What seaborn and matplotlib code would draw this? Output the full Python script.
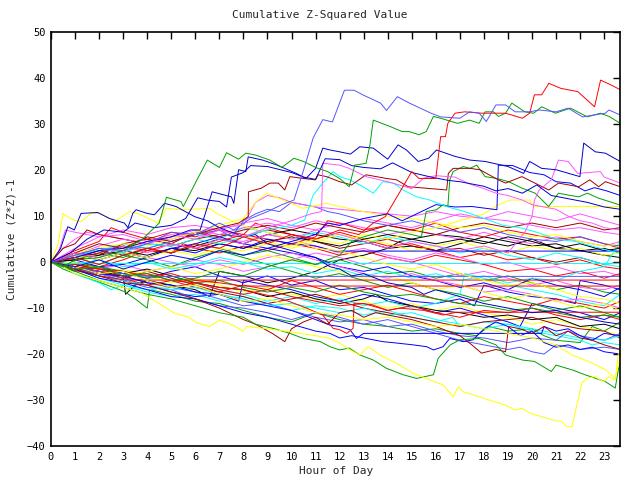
import matplotlib
matplotlib.use("Agg")
import matplotlib.pyplot as plt
import seaborn as sns
import pandas as pd

# ---- colours (gnuplot-like palette) ----
RED, GREEN, BLUE, MAG, CYAN = "#ff0000", "#00a000", "#0000ff", "#ff55ff", "#00ffff"
DRED, YEL, BLK, MBLUE, DBLUE = "#a00000", "#ffff00", "#000000", "#5555ff", "#0000c8"

title_text = "Cumulative Z-Squared Value"
x_label = "Hour of Day"
y_label = "Cumulative (Z*Z)-1"
x_ticks = list(range(0, 24))
y_ticks = [-40, -30, -20, -10, 0, 10, 20, 30, 40, 50]

# ---- series: (hour, cumulative value) ----
m01 = [(0,0),(1,2.5),(2,4.5),(2.5,7.5),(3,6.5),(4,5),(5,6.5),(6,5.5),(7,7),(8,6),(8.5,8.5),(9,7.5),(10,6),(11,5),(12,6.5),(13,5),(14,3.5),(15,4),(16,2.5),(17,1),(18,2),(19,0.5),(20,1),(21,-0.5),(22,0.5),(23,-1),(23.67,-1.5)]
m02 = [(0,0),(0.5,3),(1,5),(1.5,6.5),(2,6),(3,5),(4,4),(5,5.5),(6,6.5),(7,5),(8,4.5),(9,6),(10,5),(11,3.5),(12,2),(13,3),(14,1.5),(15,0.5),(16,2),(17,1),(18,-0.5),(19,0),(20,-1.5),(21,-1),(22,-2.5),(23,-2),(23.67,-3)]
m03 = [(0,0),(1,-1),(2,-2),(3,-3),(3.1,-7),(3.5,-5),(4,-4),(5,-5),(6,-6),(6.6,-7.5),(7,-2),(8,-3),(9,-4.5),(10,-3.5),(11,-2),(12,0.5),(13,1.5),(14,3),(14.5,4.5),(15,5),(16,6),(17,5.5),(18,4.5),(19,3.5),(20,5),(21,3),(22,2.5),(23,1.5),(23.67,1)]
m04 = [(0,0),(1,1),(2,2.5),(3,1.5),(4,3),(5,2),(6,3.5),(7,5),(8,4),(9,6),(10,7),(11,6),(12,5),(13,4.5),(14,3),(15,3.5),(16,2.5),(17,4),(18,5.5),(19,4.5),(20,3.5),(21,4),(22,2.5),(23,3),(23.67,2)]
m05 = [(0,0),(0.5,-1.5),(1.25,-3),(2.08,-4.5),(3.05,-6.4),(3.5,-8),(4.0,-10),(4.1,-6),(5,-7),(6,-8.5),(7,-9),(8,-10.5),(9,-12),(10,-13),(10.5,-12),(11,-11),(12,-12.5),(13,-13.5),(14,-14),(15,-15),(16,-14.5),(17,-15.5),(17.7,-16),(18.2,-14),(19,-15),(20,-14.5),(20.5,-16),(21,-17),(22,-17.5),(22.5,-14),(23,-15),(23.67,-13)]
m06 = [(0,0),(0.5,-1),(1,-2.5),(2,-4.5),(2.5,-6),(3,-5),(4,-6.5),(5,-7.5),(6,-7),(7,-8.5),(8,-7.5),(9,-9),(10,-10.5),(11,-9.5),(12,-10),(13,-11.5),(14,-10.5),(15,-12),(16,-13),(16.7,-12),(17,-14),(18,-13),(19,-13.5),(20,-15),(21,-16),(22,-17),(22.5,-18),(23,-17.5),(23.67,-18)]
m07 = [(0,0),(0.3,2),(0.6,7),(1,6.5),(2,5.5),(3,7),(4,6),(5,7.5),(6,8),(7,7),(8,8.5),(9,9.5),(10,8),(11,7),(12,8.5),(13,7.5),(14,6),(15,7),(16,6),(17,5),(18,6.5),(19,5),(20,4),(21,5.5),(22,4.5),(23,3.5),(23.67,4.5)]
m08 = [(0,0),(0.5,-1),(1,-2),(2,-1),(3,-2.5),(4,-3.5),(5,-2),(6,-1),(7,-3),(8,-4.5),(9,-3),(10,-5),(11,-4),(12,-6),(13,-5.5),(14,-7),(15,-8.5),(16,-9),(17,-8),(17.6,-9.5),(18,-5),(19,-6.5),(20,-7.5),(21,-8),(21.8,-9),(22,-4),(23,-5),(23.67,-6)]
m09 = [(0,0),(0.5,1),(1,0),(2,-1),(3,0.5),(4,2.5),(5,2),(5.5,4),(6,3),(7,2),(8,3.5),(9,2.5),(10,4),(11,3),(12,1.5),(13,2.5),(14,1),(15,0),(16,1.5),(17,0.5),(18,-0.5),(19,-2),(20,-1.5),(21,-3),(22,-2),(23,-3.5),(23.67,-2.5)]
m10 = [(0,0),(1,-1),(2,-2.5),(3,-1.5),(4,-3),(5,-4.5),(6,-3.5),(7,-5),(8,-6.5),(9,-5.5),(10,-7),(11,-8),(12,-7),(13,-8.5),(14,-10),(15,-9),(16,-10.5),(17,-9.5),(18,-11),(19,-12),(20,-13.5),(21,-12.5),(22,-14),(23,-15),(23.67,-16)]
m11 = [(0,0),(0.5,3),(1,4),(1.5,7),(2,6),(3,5),(4,4),(5,3.5),(6,5),(7,6),(8,5.5),(9,7),(10,6),(11,4.5),(12,3),(13,4),(14,5),(15,3.5),(16,2.5),(17,3),(18,1.5),(19,2.5),(20,1),(21,0),(22,1),(23,-0.5),(23.67,0)]
m12 = [(0,0),(1,0.5),(2,2),(3,1),(4,3),(5,2),(6,4),(7,3),(8,1.5),(9,2.5),(10,1),(11,-0.5),(12,0.5),(13,-1),(14,-2.5),(15,-2),(16,-3.5),(17,-2.5),(18,-4),(19,-3),(20,-4.5),(21,-6),(22,-5),(23,-6.5),(23.67,-7)]
m13 = [(0,0),(1,1.5),(2,2.5),(3,4),(4,3),(5,4.5),(6,6),(7,5),(8,7.5),(9,6.5),(10,5),(11,6.5),(12,5.5),(13,4),(14,5.5),(15,4.5),(16,3.5),(17,2),(18,3),(19,1.5),(20,0.5),(21,2),(22,1),(23,-0.5),(23.67,-1)]
m14 = [(0,0),(1,-1),(2,-3),(3,-4),(4,-5),(5,-6.5),(6,-7.5),(7,-7),(7.8,-8.5),(8,-4),(9,-5),(10,-6),(11,-7.5),(12,-8.5),(13,-7),(14,-8),(15,-9.5),(16,-11),(17,-10),(18,-11.5),(19,-13),(19.5,-14),(20,-9),(21,-10),(22,-11),(23,-12.5),(23.67,-11)]
m15 = [(0,0),(1,-0.5),(2,-1.5),(3,-0.5),(4,-2),(5,-1),(6,0.5),(7,-0.5),(8,-2),(9,-1),(10,0.5),(11,2),(12,1),(13,-0.5),(14,1),(15,0),(16,-1.5),(17,-3),(18,-2),(19,-3.5),(20,-5),(21,-4),(22,-5.5),(23,-6),(23.67,-5)]
m16 = [(0,0),(1,-1.5),(2,-2.5),(3,-4),(4,-5.5),(5,-6),(6,-8),(7,-9.5),(8,-10),(9,-11),(10,-12.5),(11,-11),(12,-12),(13,-13.5),(14,-12.5),(15,-14),(16,-15.5),(17,-17),(18,-18),(19,-19),(19.5,-18.5),(20,-19.5),(20.5,-20),(21,-18),(22,-19),(23,-18.5),(23.67,-19)]
m17 = [(0,0),(1,-1.5),(2,-2),(3,-3.5),(4,-5),(5,-4),(6,-5.5),(7,-6.5),(8,-5),(9,-6),(10,-4),(11,-5.5),(12,-7),(13,-6),(14,-5),(15,-6.5),(16,-8),(17,-9),(18,-7.5),(19,-8.5),(20,-9.5),(21,-8),(22,-9),(23,-10),(23.67,-8.5)]
m18 = [(0,0),(1,-0.5),(2,-1.5),(3,-2.5),(4,-1.5),(5,-3),(6,-4.5),(7,-5.5),(8,-6),(9,-7.5),(10,-6.5),(11,-8),(12,-9),(13,-8),(13.5,-7),(14,-8.5),(15,-9.5),(16,-10.5),(17,-11),(18,-12),(19,-11.5),(20,-12.5),(21,-12),(22,-14),(23,-13.5),(23.67,-14.5)]
m19 = [(0,0),(1,2),(2,1),(3,3),(4,4.5),(5,6),(6,5),(7,4),(8,5.5),(9,4.5),(10,3),(11,4.5),(12,6),(13,5),(14,4),(15,2.5),(16,3.5),(17,4.5),(18,3),(19,2),(20,3.5),(21,2.5),(22,3),(23,1.5),(23.67,2)]
m20 = [(0,0),(1,1),(2,-0.5),(3,1.5),(4,0.5),(5,-1),(6,1),(7,2.5),(8,1),(9,-0.5),(10,-2),(11,-3.5),(12,-2.5),(13,-4),(14,-5.5),(15,-4.5),(16,-6),(17,-7),(18,-8.5),(19,-7.5),(20,-9),(21,-10.5),(22,-9.5),(23,-11),(23.67,-12)]
m21 = [(0,0),(1,-1.5),(2,-3.5),(3,-5),(4,-6),(5,-5.5),(6,-4.5),(7,-6),(8,-7),(9,-8.5),(10,-7.5),(11,-9),(12,-8),(13,-9.5),(14,-8.5),(15,-10),(16,-9),(17,-7),(17.2,-2.5),(18,-3.5),(19,-5),(20,-6),(21,-7),(22,-8.5),(23,-9.5),(23.67,-7)]
m22 = [(0,0),(1,0.5),(2,-1),(3,-0.5),(4,1),(5,3),(6,4),(7,5.5),(8,4),(9,3),(10,2),(11,1),(12,-1),(13,-2),(14,-1),(15,-3),(16,-4),(17,-5.5),(18,-4.5),(19,-6),(20,-3.5),(21,-5),(22,-6),(23,-7.5),(23.67,-5.5)]
m23 = [(0,0),(1,1),(2,2),(3,3.5),(4,2.5),(5,4),(6,3),(7,4.5),(8,6),(9,5),(10,4),(11,5.5),(11.5,9),(12,8.5),(13,7),(14,8),(15,7),(16,8.5),(17,6.5),(18,5.5),(19,7),(20,6),(21,5),(22,5.5),(23,4),(23.67,3)]
m24 = [(0,0),(1,-1),(2,-2),(3,-3.5),(4,-2),(5,-3.5),(6,-5),(7,-6.5),(8,-7.5),(9,-9),(10,-8),(11,-7),(12,-8.5),(13,-10),(14,-11),(15,-12),(16,-13),(17,-14),(18,-13),(19,-12.5),(20,-12),(21,-13.5),(22,-14.5),(23,-15),(23.67,-16.5)]
m25 = [(0,0),(1,1),(2,3),(3,2),(4,1),(5,0),(6,-1),(7,0.5),(8,-0.5),(9,1),(10,2),(11,0.5),(12,-1),(13,-2.5),(14,-3.5),(15,-2.5),(16,-4),(17,-5),(18,-6.5),(19,-6),(20,-7),(21,-8.5),(22,-8),(23,-9),(23.67,-10)]
m26 = [(0,0),(1,0),(2,-1.5),(3,-3),(4,-2),(5,-1),(6,-2.5),(7,-1.5),(8,0),(9,1.5),(10,0.5),(11,-1),(12,-2),(13,-3.5),(14,-3),(15,-4.5),(16,-6),(17,-5),(18,-6.5),(19,-8),(20,-7),(21,-8.5),(22,-10),(23,-9),(23.67,-10.5)]
e01 = [(0,0),(1,1.5),(2,3.5),(3,5),(4,4),(5,5.5),(6,7),(7,6),(8,7.5),(9,8.5),(10,7.5),(11,9),(12,8),(13,9.5),(14,8.5),(15,7.5),(16,9),(17,10.5),(18,9.5),(19,11),(20,10),(21,9),(22,10.5),(23,9),(23.67,8)]
e02 = [(0,0),(1,2),(2,1.5),(3,4),(4,5),(5,4),(6,6.5),(7,5.5),(8,7),(9,8),(10,7),(11,8.5),(12,7.5),(13,6.5),(14,8),(15,7),(16,6),(17,7.5),(18,8.5),(19,7.5),(20,8.5),(21,7.5),(22,8.5),(23,7),(23.67,7.5)]
e03 = [(0,0),(1,-0.5),(2,0.5),(3,-1),(4,0),(5,-1.5),(6,-0.5),(7,1),(8,0),(9,-1.5),(10,-1),(11,-2.5),(12,-1.5),(13,-3),(14,-2),(15,-3.5),(16,-2.5),(17,-4),(18,-3),(19,-4.5),(20,-3.5),(21,-4),(22,-2),(23,-1),(23.5,3),(23.67,5)]
e04 = [(0,0),(1,0.5),(2,1.5),(3,2.5),(4,1.5),(5,3),(6,2.5),(7,4),(8,3),(9,4.5),(10,5.5),(11,4.5),(12,3.5),(13,5),(14,6),(15,5),(16,4),(17,5),(18,4),(19,5.5),(20,4.5),(21,3),(22,4),(23,2.5),(23.67,3)]
e05 = [(0,0),(1,-1),(2,-2.5),(3,-3),(4,-4.5),(5,-5.5),(6,-4.5),(7,-6),(8,-7),(9,-6),(10,-7.5),(11,-8.5),(12,-9.5),(13,-9),(14,-10.5),(15,-9.5),(16,-11),(17,-12),(18,-10.5),(19,-11),(20,-10),(21,-11.5),(22,-12.5),(23,-11.5),(23.67,-12.5)]
e06 = [(0,0),(1,-0.5),(2,-1),(3,-2),(4,-3.5),(5,-3),(6,-4.5),(7,-4),(8,-5.5),(9,-6.5),(10,-5.5),(11,-6.5),(12,-5),(13,-6.5),(14,-7.5),(15,-7),(16,-8),(17,-9),(18,-9.5),(19,-10.5),(20,-10),(21,-11),(22,-12),(23,-11.5),(23.67,-12)]
e07 = [(0,0),(1,-1),(2,-2.5),(3,-3.5),(4,-4),(5,-5.5),(6,-6.5),(7,-8),(8,-9.5),(9,-9),(10,-10.5),(11,-12),(12,-13),(13,-12.5),(14,-14),(15,-13.5),(16,-15),(17,-16),(18,-16.5),(19,-17.5),(20,-16.5),(21,-17),(21.5,-15),(22,-16),(23,-17),(23.67,-15.5)]
e08 = [(0,0),(1,-1.5),(2,-3),(3,-4),(4,-5),(5,-6),(6,-5.5),(7,-7),(8,-8),(9,-9.5),(10,-9),(11,-10),(12,-11),(13,-10),(14,-11.5),(15,-11),(16,-12.5),(17,-13.5),(18,-14.5),(19,-13.5),(20,-14.5),(21,-15.5),(22,-16.5),(23,-17),(23.67,-16)]
u01 = [(0,0),(1,1),(2,2.5),(3,3.5),(4,3),(5,4.5),(6,6),(7,7),(7.5,5.5),(8,9),(8.5,10.5),(9,11.5),(9.5,11),(10,13),(10.5,12.5),(11,12),(11.5,11),(12,10.5),(13,9),(14,8),(15,9),(16,7.5),(17,6.5),(18,7.5),(19,6),(20,5),(21,4.5),(22,5.5),(23,4),(23.67,3.5)]
u02 = [(0,0),(1,1.5),(2,3),(3,2),(4,4.5),(5,5),(6,6.5),(7,7.5),(8,8),(8.5,13),(9,14.5),(9.5,14),(10,13),(10.5,12.5),(11,12),(12,11.5),(13,11),(14,10.5),(15,10),(16,11),(17,10),(18,9.5),(19,9),(20,8),(21,7),(22,7.5),(23,6.5),(23.67,6)]
u03 = [(0,0),(1,2),(2,3),(3,4),(4,3.5),(5,5),(6,6.5),(7,8),(8,9.5),(8.5,13),(8.96,15),(9.65,13.5),(10.48,11.7),(11.45,12.8),(12,12.1),(13,11),(14,10),(15,9.5),(16,8.5),(17,7.5),(18,8),(19,6.5),(20,5.5),(21,6),(22,4.5),(23,3.5),(23.67,4)]
flat_red_a = [(0,0),(0.5,-1),(1,-1.8),(2,-3),(3.1,-3.9),(23.67,-3.9)]
flat_red_b = [(0,0),(1,-0.5),(2,-1.5),(3,-2),(4,-3),(5,-2.5),(6,-4),(7,-4.5),(8,-5.2),(23.67,-5.2)]
flat_blue = [(0,0),(1,1.5),(2,0.5),(3,2),(4,1),(5,3),(6,2),(7,4),(8,3),(9,5),(10,4),(11,3.5),(11.8,2.4),(23.67,2.4)]
flat_cyan = [(0,-0.1),(23.67,-0.1)]
flat_mblue = [(0,0),(1,-1),(2,-2),(3,-2.5),(4,-3.1),(23.67,-3.1)]
flat_blue_low = [(0,0),(1,-1),(2,-2.5),(3,-3),(4,-4.5),(5,-5),(6,-6.5),(7,-7),(8,-8.5),(9,-9.5),(10,-10.5),(11,-12.5),(11.6,-13.7),(12,-14),(12.43,-14.7),(12.7,-16.6),(13,-15.5),(20.4,-15.5),(20.5,-14),(21,-15),(21.5,-14.5),(22,-16),(22.5,-17),(23,-15.5),(23.67,-16)]
red_falls = [(0,0),(1,-1),(2,-1.5),(3,-3),(4,-2.5),(5,-4),(6,-4.5),(7,-5.5),(8,-6),(9.23,-7.5),(9.93,-8.6),(10.62,-10),(11.3,-11.5),(11.73,-14.4),(12,-14.7),(12.3,-15.5),(12.56,-14.4),(12.6,-8.9),(13.3,-9.2),(14,-10.5),(14.5,-10),(15.5,-10.5),(16.3,-11.5),(16.86,-10.9),(23.67,-10.9)]
blue_low = [(0,0),(1,-1.5),(2,-3.5),(3,-4.5),(4,-6),(5,-7.5),(6,-8),(7,-9.5),(8,-11),(9,-12),(10,-13.5),(11,-15),(11.6,-15.5),(12,-16.5),(12.5,-16),(13,-16.5),(13.8,-17.3),(14.37,-17.6),(15.06,-18),(15.62,-18.4),(15.9,-19.1),(16.3,-18.4),(16.58,-16.6),(17.14,-17.3),(17.55,-16.9),(18,-14.5),(18.5,-13),(19,-14),(19.5,-16),(20,-15),(20.5,-17.5),(21,-18.5),(21.5,-18),(22,-19),(22.5,-18.5),(23,-19.5),(23.67,-20)]
dred_low = [(0,0),(1,-1.5),(2,-3),(3,-4.5),(4,-5),(5,-6.5),(6,-8),(7,-10),(8,-12.5),(8.5,-13.5),(9.2,-15.5),(9.72,-17.3),(10.0,-14.5),(10.5,-13),(11,-12),(11.5,-13.5),(12,-11),(12.5,-10.5),(13,-12),(13.5,-11),(14,-11.5),(15,-12.5),(16,-14),(17,-16),(17.5,-18),(17.9,-19.8),(18.5,-19),(18.9,-19.5),(19.03,-14),(19.5,-14.5),(20,-15.5),(20.5,-14),(21,-16),(21.5,-15),(22,-16.5),(22.5,-17),(23,-18),(23.67,-19)]
green_low = [(0,0),(1,-2),(2,-4),(3,-5.5),(4,-7),(5,-8),(6,-9.5),(7,-11),(8,-12),(8.5,-13.5),(9.3,-14.5),(9.93,-15.5),(10.5,-16.6),(11.2,-17.3),(11.6,-18.4),(12,-19.1),(12.4,-18.7),(12.84,-20.2),(13.4,-21.3),(13.95,-23.1),(14.64,-24.5),(15.2,-25.3),(15.9,-24.5),(16.1,-20.9),(16.6,-18),(17,-16.9),(17.8,-16.6),(18.5,-18),(18.9,-20.2),(19.6,-21.3),(20.1,-21.6),(20.8,-23.8),(21.0,-22.4),(21.7,-23.5),(22.2,-24.5),(23.05,-26),(23.46,-27.4),(23.6,-23.1),(23.67,-22)]
yellow_low = [(0,0),(0.5,-1),(1,-2.5),(2,-4),(3,-5.5),(3.7,-6.5),(4.58,-9.3),(5.13,-11.1),(5.69,-11.9),(6.1,-13.3),(6.6,-14),(7.0,-12.6),(7.57,-13.7),(7.99,-15.1),(8.13,-14),(9,-14.5),(10,-15.2),(11,-16),(11.6,-16.6),(12,-17.6),(12.43,-19.1),(12.84,-20.2),(13.19,-18.4),(13.67,-20.2),(14.37,-22),(15.06,-24.2),(15.75,-25.6),(16.3,-26.7),(16.72,-29.3),(16.93,-27.1),(17.14,-28.2),(17.83,-29.3),(18.2,-30),(18.9,-31.1),(19.3,-32.2),(19.58,-31.8),(19.93,-32.9),(20.4,-33.6),(20.83,-34.3),(21.24,-34.7),(21.45,-35.8),(21.66,-35.8),(22.07,-26.3),(22.28,-25.3),(22.6,-24.9),(22.98,-26),(23.2,-24.9),(23.46,-25.6),(23.58,-20.2),(23.67,-18.7)]
yellow_mid = [(0,0),(1,-1),(2,-2.5),(3,-2),(4,-4),(5,-5.5),(6,-5),(7,-7),(8,-8.5),(9,-8),(10,-9.5),(11,-11),(12,-11.5),(13,-12.5),(14,-12),(15,-13),(16,-14),(17,-13.5),(18,-14.5),(19,-15.5),(20,-16.5),(21,-18),(21.66,-20.2),(22.35,-21.6),(23.05,-23.4),(23.46,-25.3),(23.6,-22),(23.67,-21)]
yellow_early = [(0,0),(0.3,4),(0.49,10.6),(0.9,9.2),(1.25,8.8),(1.66,10.6),(2.08,10.6),(2.64,8.8),(3.26,11),(3.6,10.6),(3.9,9.9),(4.44,8.5),(4.79,11.7),(5.41,11.4),(6.6,11.7),(6.88,10.6),(7.5,9),(8.2,7.5),(9,6.5),(10,5),(11,3),(12,2.5),(13,1),(14,-0.5),(15,-1.5),(16,-0.5),(17,-2.5),(18,-4),(19,-5),(20,-4.5),(21,-6),(22,-7.5),(23,-8),(23.67,-9)]
yellow_flat = [(0,0),(1,1.5),(2,0.5),(3,2),(4,1),(5,2.5),(6,1.5),(7,3),(8,2.5),(9,4),(10,3.5),(11,5),(12,4),(13,6),(14,5),(15,6.5),(16,7.5),(17,9),(18,10.5),(18.6,12.5),(19.1,13.5),(19.9,13.5),(20.05,12.1),(23.67,12.1)]
blue_early = [(0,0),(0.4,3),(0.7,7.7),(0.97,7),(1.25,10.6),(1.94,10.8),(2.43,9.5),(3.05,8.5),(3.2,7.5),(3.4,10.6),(3.54,11.4),(4.0,10.6),(4.3,10.3),(4.72,12.8),(5.2,12.1),(5.97,9.9),(6.5,9),(7,7.5),(7.5,6.5),(8,5.5),(8.5,6),(9,4),(10,2.5),(11,1),(11.6,-1),(12,-1.5),(12.5,-3),(13,-2.5),(14,-4.5),(15,-5.5),(15.5,-7),(16,-6),(17,-7.5),(18,-9),(19,-10),(20,-11),(21,-10.5),(22,-12),(23,-13),(23.67,-13.5)]
blue_climb = [(0,0),(1,-1),(2,0.5),(3,-1.5),(4,0),(5,1.5),(6,0.5),(7,2.5),(8,1.5),(9,3),(10,4.5),(11,6),(11.5,8.5),(12,8),(13,9.5),(14,10.5),(14.6,9),(15.4,11),(16,12.5),(16.8,12),(17.5,12.1),(18.54,11.4),(18.6,21.1),(19.2,21),(19.9,19.5),(20.5,19),(21,17.5),(21.6,17.2),(22.2,15.5),(22.6,16.2),(23.1,15.5),(23.67,14.5)]
green_mid = [(0,0),(1,-1.5),(2,-1),(3,-3),(4,-2.5),(5,-4),(6,-3.5),(7,-2),(8,-3),(9,-1),(10,0.5),(11,-0.5),(12,1.5),(12.5,4.5),(13,5.5),(14,7),(15,6),(15.4,5.5),(15.6,11),(16.03,11.4),(16.3,12.5),(16.5,12.1),(16.58,17.9),(16.72,19.7),(17.14,20.8),(17.42,20.4),(17.7,21.1),(18.05,18.6),(18.54,18.2),(19.03,17.5),(19.58,16.1),(20.13,15),(20.69,12.1),(21.1,15),(21.5,14.6),(21.94,14.2),(22.3,15),(22.77,13.9),(23.2,13.2),(23.67,12.4)]
cyan_up = [(0,0),(1,1),(2,3),(3,2),(4,4),(5,3.5),(6,5),(7,4),(8,5.5),(9,7),(10,8),(10.55,9.2),(10.9,14.6),(11.3,17.2),(11.73,19.7),(12,18.6),(12.43,17.9),(12.98,16.4),(13.4,15),(13.8,17.5),(14.23,17.2),(14.64,15.7),(15.2,14.2),(15.75,13.5),(16.5,12),(17.2,11),(18,9.5),(18.8,8),(19.5,7.5),(20.2,6.5),(21,5),(21.8,4.5),(22.5,3.5),(23.2,2.5),(23.67,2)]
dred_up = [(0,0),(1,2),(2,4),(3,3),(4,5.5),(5,4.5),(6,6),(7,7.5),(7.8,8.5),(8.2,9.9),(8.21,15.3),(8.75,16.1),(9.1,17.2),(9.45,17.2),(9.72,15.7),(9.93,18.6),(10.5,18.2),(11,17.9),(11.1,19),(11.46,18.6),(12,17.5),(12.5,16.8),(13.1,19),(13.95,18.2),(14.37,17.9),(14.85,16.4),(15.55,16.1),(16.45,15.7),(16.52,19.3),(16.72,20.4),(17.42,20.4),(17.83,20.1),(18.6,17.9),(18.9,17.2),(19.58,18.6),(20.27,16.8),(20.7,15.7),(21.1,17.2),(21.94,16.4),(22.4,17.9),(22.77,16.4),(23.05,17.5),(23.67,16.4)]
mag_up_a = [(0,0),(1,2),(2,1),(3,3.5),(4,2),(5,4),(6,3),(7,5),(8,4),(9,6),(10,5),(11,7),(12,6),(13,4.5),(14,3),(15,4.5),(16,3.5),(17,2.5),(18,3.5),(19,2),(19.7,6.5),(20.0,9.9),(20.1,13.5),(20.3,15.7),(20.8,17.9),(21.1,22.2),(21.5,21.9),(21.9,19.3),(22.84,19.7),(23.0,18.5),(23.67,17.2)]
mag_up_b = [(0,0),(1,3),(2,5.5),(3,6),(4,4.5),(5,6),(6,5),(7,7),(8,5.5),(9,7.5),(10,9),(10.8,10.5),(11.25,11),(11.3,21.5),(12,21.1),(12.4,20.4),(13.1,18.6),(14,17.5),(15,16),(15.5,18.3),(16,18.8),(16.8,18.5),(17.4,17),(18,16),(18.5,15),(19,14.5),(19.6,13.5),(20,12.5),(20.5,12),(21,11.5),(21.5,10),(22,9),(22.5,8.5),(23,7.5),(23.67,7)]
blue_b2 = [(0,0),(0.8,2),(1.5,5),(2.2,7),(3,6.5),(3.5,8.5),(4.3,7.5),(5.0,8),(5.6,9.5),(6.1,14),(6.5,13.5),(7.0,13.2),(7.3,12),(7.5,18.5),(8.0,19.5),(8.3,21),(9,20.8),(10,19.5),(10.5,18.5),(11,18),(11.4,22.5),(12,22.3),(12.5,21),(13,20.6),(13.7,20.3),(14.2,21.6),(15,19.5),(15.8,18.5),(16.5,17.8),(17,17.5),(18,16.5),(18.5,15.5),(19,16),(19.6,15),(20.2,16.8),(20.8,14.5),(21.5,13.8),(22.3,13),(23,12),(23.67,11.5)]
blue_b1 = [(0,0),(1,1),(2,2.5),(3,3),(4,4.5),(5,5.5),(5.8,7),(6.2,7),(6.7,15.3),(7.5,14.2),(7.6,12.8),(7.8,20.1),(8.1,19.7),(8.2,22.9),(8.8,22.2),(9.4,21.1),(10.2,19.3),(10.6,18.2),(11.0,20.4),(11.3,24.8),(11.6,24.4),(12.0,24.0),(12.45,23.5),(12.84,25.1),(13.4,24.8),(14.0,22.4),(14.43,25.5),(14.78,24.4),(15.27,21.9),(15.7,22.6),(16.03,24.4),(16.8,23),(17.42,22.2),(18.05,21.9),(19.0,20.8),(19.65,19.3),(19.9,21.9),(20.4,20.4),(21.0,20.1),(21.99,18.6),(22.15,25.9),(22.63,24),(23.05,23.7),(23.67,21.9)]
green_top = [(0,0),(0.5,-1),(1,0.5),(2,1),(3,2.5),(3.8,5),(4.5,8.5),(4.8,14.1),(5.4,13.2),(5.5,12.1),(6.1,18.2),(6.5,22.2),(7.0,20.6),(7.3,23.8),(7.8,22.4),(8.1,23.7),(8.5,23.3),(9.1,22.2),(9.6,20.6),(10.1,22.6),(10.5,21.9),(11.0,20.6),(11.5,19.7),(12.0,18.2),(12.4,16.4),(12.63,21.1),(13.1,21.5),(13.26,25.5),(13.4,30.9),(14.1,29.5),(14.6,28.4),(14.9,28.4),(15.3,27.7),(15.6,28.4),(15.9,31.7),(16.2,31.3),(16.9,30.2),(17.4,30.9),(17.8,30.2),(18.05,32.7),(18.4,32.7),(18.6,31.7),(18.9,32.4),(19.16,34.6),(19.7,32.7),(20.07,32.4),(20.4,33.8),(20.97,32.4),(21.6,33.5),(22.3,31.6),(22.84,32.4),(23.2,31.7),(23.67,30.2)]
red_top = [(0,0),(1,1),(2,-0.5),(3,1.5),(4,3),(5,2),(6,4),(7,3),(8,5.5),(9,4),(10,6),(11,5),(12,7),(12.8,6),(13.4,8.5),(13.9,9.9),(15,19.7),(15.3,18.2),(16.0,18.2),(16.2,27.3),(16.4,27.3),(16.5,30.2),(16.8,32.4),(17.2,32.7),(17.9,32.4),(18.9,32.4),(19.6,31.3),(19.9,32.4),(20.1,36.4),(20.4,36.4),(20.7,38.9),(21.2,37.8),(21.9,37.1),(22.6,33.8),(22.85,39.6),(23.3,38.5),(23.67,37.5)]
mblue_top = [(0,0),(1,1.5),(2,3),(3,2.5),(4,4),(5,6.5),(6,6),(7,8.5),(7.6,7),(8.3,9.5),(9,11),(9.6,12.5),(10.1,13.5),(10.5,20),(10.9,27),(11.3,31),(11.7,30.5),(12.2,37.4),(12.6,37.4),(13,36.3),(13.7,34.6),(13.95,33),(14.4,36),(14.9,34.6),(15.8,32.4),(16.2,31.6),(17,31.3),(17.4,32.7),(17.8,32.4),(18.1,30.6),(18.5,34.2),(18.9,34.2),(19.3,32.7),(19.9,32.7),(20.3,33.1),(21,32.7),(21.5,33.5),(22.1,31.6),(23.05,32.4),(23.2,33.1),(23.67,32)]

series_list = [
    ("m01", m01, RED), ("m02", m02, MAG), ("m03", m03, BLK), ("m04", m04, BLK),
    ("m05", m05, GREEN), ("m06", m06, CYAN), ("m07", m07, MAG), ("m08", m08, BLUE),
    ("m09", m09, RED), ("m10", m10, YEL), ("m11", m11, DRED), ("m12", m12, GREEN),
    ("m13", m13, CYAN), ("m14", m14, BLUE), ("m15", m15, MAG), ("m16", m16, MBLUE),
    ("m17", m17, RED), ("m18", m18, BLK), ("m19", m19, YEL), ("m20", m20, GREEN),
    ("m21", m21, CYAN), ("m22", m22, BLUE), ("m23", m23, RED), ("m24", m24, DRED),
    ("m25", m25, MAG), ("m26", m26, YEL),
    ("e01", e01, MAG), ("e02", e02, DRED), ("e03", e03, CYAN), ("e04", e04, BLK),
    ("e05", e05, RED), ("e06", e06, GREEN), ("e07", e07, MBLUE), ("e08", e08, CYAN),
    ("u01", u01, MBLUE), ("u02", u02, MAG),
    ("u03", u03, YEL), ("flat_red_a", flat_red_a, RED), ("flat_red_b", flat_red_b, RED),
    ("flat_blue", flat_blue, BLUE), ("flat_cyan", flat_cyan, CYAN), ("flat_mblue", flat_mblue, MBLUE),
    ("flat_blue_low", flat_blue_low, BLUE), ("red_falls", red_falls, RED), ("blue_low", blue_low, BLUE),
    ("dred_low", dred_low, DRED), ("green_low", green_low, GREEN), ("yellow_low", yellow_low, YEL),
    ("yellow_mid", yellow_mid, YEL), ("yellow_early", yellow_early, YEL), ("yellow_flat", yellow_flat, YEL),
    ("blue_early", blue_early, DBLUE), ("blue_climb", blue_climb, BLUE), ("green_mid", green_mid, GREEN),
    ("cyan_up", cyan_up, CYAN), ("dred_up", dred_up, DRED), ("mag_up_a", mag_up_a, MAG),
    ("mag_up_b", mag_up_b, MAG), ("blue_b2", blue_b2, DBLUE), ("blue_b1", blue_b1, DBLUE),
    ("green_top", green_top, GREEN), ("red_top", red_top, RED), ("mblue_top", mblue_top, MBLUE),
]

rows = []
for name, pts, col in series_list:
    for i, (h, v) in enumerate(pts):
        rows.append({"series": name, "order": i, "hour": h, "value": v})
df = pd.DataFrame(rows)

sns.set_style("white")
plt.rcParams["font.family"] = ["DejaVu Sans Mono"]

fig = plt.figure(figsize=(6.4, 4.8), dpi=100)
ax = fig.add_axes([51/640, 1 - 446/480, (620.3 - 51)/640, (446 - 32.3)/480])

for name, pts, col in series_list:
    sub = df[df["series"] == name].sort_values("order")
    sns.lineplot(data=sub, x="hour", y="value", ax=ax, color=col, lw=0.7,
                 estimator=None, sort=False, legend=False)

ax.set_xlim(0, 23.67)
ax.set_ylim(-40, 50)
ax.set_xticks(x_ticks)
ax.set_yticks(y_ticks)
ax.tick_params(direction="in", length=5, width=1, top=True, right=True,
               labelsize=7.5, pad=4, colors="black")
for s in ax.spines.values():
    s.set_linewidth(1.2)
    s.set_color("black")
ax.set_xlabel(x_label, fontsize=8, labelpad=3)
ax.set_ylabel(y_label, fontsize=8, labelpad=7)
fig.text(0.5, 1 - 15/480, title_text, ha="center", va="center", fontsize=8)

fig.savefig("out.png", dpi=100)
